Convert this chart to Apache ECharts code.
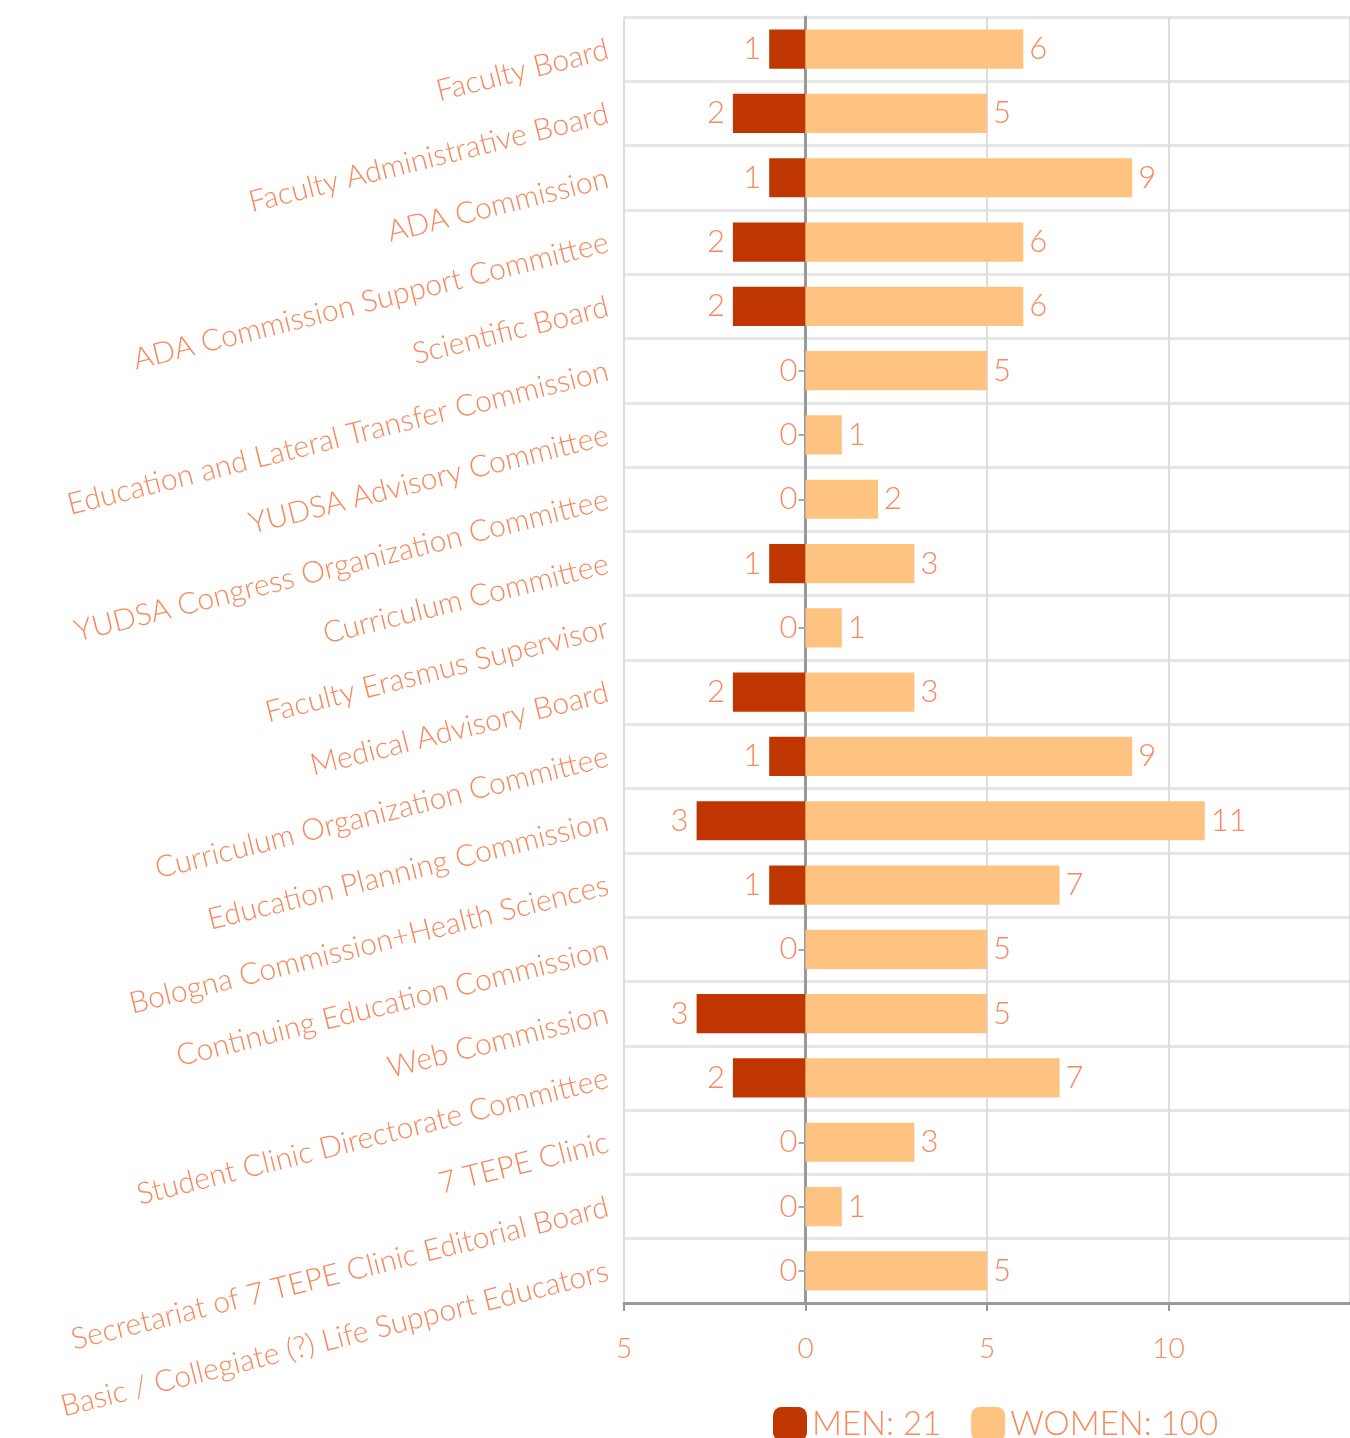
<!DOCTYPE html>
<html>
<head>
<meta charset="utf-8">
<script src="https://cdn.jsdelivr.net/npm/echarts@6/dist/echarts.min.js"></script>
<style>
  html, body { margin: 0; padding: 0; background: #fff; }
  #chart { width: 1350px; height: 1438px; }
</style>
</head>
<body>
<div id="chart"></div>
<script>
// committees, top to bottom
var categories = [
  'Faculty Board',
  'Faculty Administrative Board',
  'ADA Commission',
  'ADA Commission Support Committee',
  'Scientific Board',
  'Education and Lateral Transfer Commission',
  'YUDSA Advisory Committee',
  'YUDSA Congress Organization Committee',
  'Curriculum Committee',
  'Faculty Erasmus Supervisor',
  'Medical Advisory Board',
  'Curriculum Organization Committee',
  'Education Planning Commission',
  'Bologna Commission+Health Sciences',
  'Continuing Education Commission',
  'Web Commission',
  'Student Clinic Directorate Committee',
  '7 TEPE Clinic',
  'Secretariat of 7 TEPE Clinic Editorial Board',
  'Basic / Collegiate (?) Life Support Educators'
]
var men = [1, 2, 1, 2, 2, 0, 0, 0, 1, 0, 2, 1, 3, 1, 0, 3, 2, 0, 0, 0]
var women = [6, 5, 9, 6, 6, 5, 1, 2, 3, 1, 3, 9, 11, 7, 5, 5, 7, 3, 1, 5]
var xTicks = [-5, 0, 5, 10, 15]

var textColor = '#f7895c'
var font = 'Lato'
var sum = function (a) { return a.reduce(function (s, v) { return s + v }, 0) }
var menName = 'MEN: ' + sum(men)
var womenName = 'WOMEN: ' + sum(women)

var myChart = echarts.init(document.getElementById('chart'))
var option = {
  animation: false,
  textStyle: { fontFamily: font },
  grid: { left: 624, top: 17, width: 732, height: 1286, containLabel: false },
  legend: {
    left: 768,
    top: 1402,
    itemWidth: 34,
    itemHeight: 34,
    itemGap: 30,
    icon: 'roundRect',
    textStyle: { color: textColor, fontSize: 33, fontFamily: font, fontWeight: 300 },
    data: [menName, womenName]
  },
  xAxis: {
    type: 'value',
    min: xTicks[0],
    max: xTicks[xTicks.length - 1],
    interval: 5,
    axisLine: { show: true, lineStyle: { color: '#999', width: 3 } },
    axisTick: { show: true, length: 8, lineStyle: { color: '#999', width: 2 } },
    axisLabel: {
      color: textColor, fontSize: 28, fontWeight: 300, margin: 32,
      showMaxLabel: false,
      formatter: function (v) { return Math.abs(v) }
    },
    splitLine: { show: true, lineStyle: { color: '#ddd', width: 2 } }
  },
  yAxis: {
    type: 'category',
    inverse: true,
    data: categories,
    axisLine: { show: true, lineStyle: { color: '#999', width: 3 } },
    axisTick: { show: true, alignWithLabel: true, length: 7, lineStyle: { color: '#aaa', width: 2 } },
    axisLabel: {
      color: textColor, fontSize: 30, fontWeight: 300, margin: 16, rotate: 14
    },
    splitLine: { show: true, lineStyle: { color: '#e6e6e6', width: 3 } }
  },
  series: [
    {
      name: menName,
      type: 'bar',
      stack: 'total',
      barWidth: '61%',
      itemStyle: { color: '#c03600' },
      label: {
        show: true, position: 'left', distance: 8,
        color: textColor, fontSize: 31, fontWeight: 300,
        formatter: function (p) { return Math.abs(p.value) }
      },
      data: men.map(function (v) { return -v })
    },
    {
      name: womenName,
      type: 'bar',
      stack: 'total',
      itemStyle: { color: '#fec380' },
      label: {
        show: true, position: 'right', distance: 6,
        color: textColor, fontSize: 31, fontWeight: 300
      },
      data: women
    }
  ]
}
myChart.setOption(option)
window.addEventListener('resize', function () {
  myChart.resize()
})
</script>
</body>
</html>
